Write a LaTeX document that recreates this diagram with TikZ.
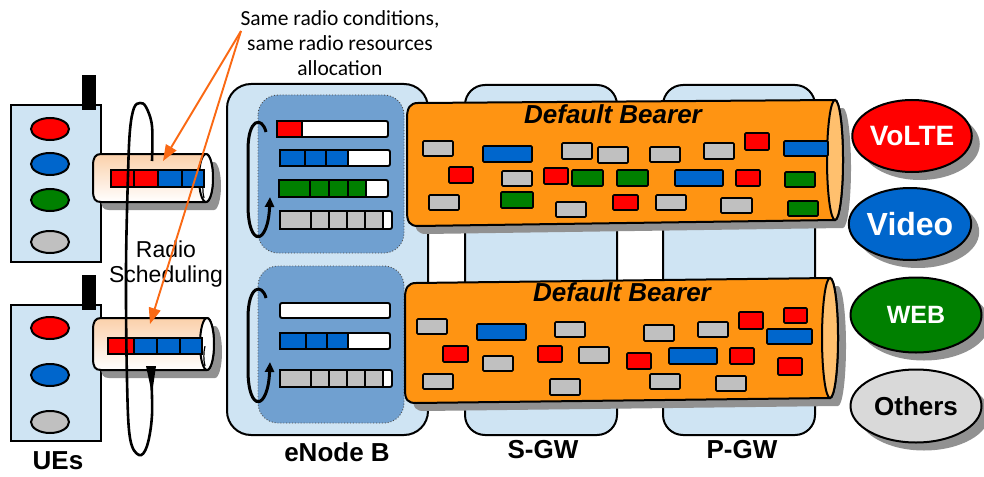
\documentclass[tikz,border=0pt]{standalone}
\usepackage{fontspec}
\setmainfont{Liberation Sans}
\newfontfamily\notefont{Carlito}
\usetikzlibrary{arrows.meta,shapes.geometric,shadows}

\definecolor{enbblue}{RGB}{207,228,243}
\definecolor{schedblue}{RGB}{112,160,208}
\definecolor{bearerorange}{RGB}{255,148,18}
\definecolor{bearercap}{RGB}{255,192,110}
\definecolor{pktred}{RGB}{255,0,0}
\definecolor{pktblue}{RGB}{0,102,204}
\definecolor{pktgreen}{RGB}{0,128,0}
\definecolor{pktgrey}{RGB}{192,192,192}
\definecolor{othergrey}{RGB}{217,217,217}
\definecolor{shadowgrey}{RGB}{145,145,145}
\definecolor{notearrow}{RGB}{250,105,20}
\definecolor{pipetop}{RGB}{251,208,170}

\begin{document}
\begin{tikzpicture}[x=1pt,y=-1pt,
  outline/.style={draw=black,line width=2pt},
  netbox/.style={outline,fill=enbblue},
  schedbox/.style={draw=black!70,dotted,line width=0.9pt,fill=schedblue,rounded corners=20pt},
  pkt/.style={draw=black,line width=1.7pt,rounded corners=1pt},
  cell/.style={draw=black,line width=1.6pt},
  qbar/.style={draw=black,line width=1.9pt,fill=white,rounded corners=2pt},
  shadowfill/.style={fill=shadowgrey},
  svc/.style={ellipse,outline,inner sep=0pt,
    drop shadow={shadow xshift=8pt,shadow yshift=-8pt,fill=shadowgrey,opacity=1}},
  lbl/.style={font=\bfseries\fontsize{26}{30}\selectfont},
  bearerlbl/.style={font=\bfseries\itshape\fontsize{26}{30}\selectfont},
  looparrow/.style={line width=3pt,-{Triangle[length=10pt,width=9pt]}},
  schedline/.style={line width=2.6pt},
  notearr/.style={draw=notearrow,line width=1.9pt,-{Triangle[length=16pt,width=12pt]}}
]
\useasboundingbox (0,0) rectangle (984,476);

% ---------- network element boxes ----------
\draw[netbox,rounded corners=24pt] (227,84) rectangle (428,435);
\draw[netbox,rounded corners=20pt] (465,85) rectangle (617,435);
\draw[netbox,rounded corners=20pt] (663,85) rectangle (815,435);

% ---------- scheduler queues inside the eNode B ----------
\draw[schedbox] (258,95) rectangle (404,253);
\draw[schedbox] (258,266) rectangle (404,423);

% upper scheduler queues
\draw[qbar] (277,121) rectangle (388,137);
\draw[cell,fill=pktred] (277,121) rectangle (302,137);
\draw[qbar] (280,150) rectangle (390,166);
\foreach \a/\b in {280/305,305/326,326/348}
  \draw[cell,fill=pktblue] (\a,150) rectangle (\b,166);
\draw[qbar] (279,180) rectangle (388,197);
\foreach \a/\b in {279/310,310/329,329/348,348/366}
  \draw[cell,fill=pktgreen] (\a,180) rectangle (\b,197);
\draw[qbar] (280,211) rectangle (392,229);
\foreach \a/\b in {280/311,311/329,329/347,347/365,365/383}
  \draw[cell,fill=pktgrey] (\a,211) rectangle (\b,229);

% lower scheduler queues
\draw[qbar] (280,303) rectangle (390,318);
\draw[qbar] (280,333) rectangle (390,349);
\foreach \a/\b in {280/306,306/327,327/348}
  \draw[cell,fill=pktblue] (\a,333) rectangle (\b,349);
\draw[qbar] (280,370) rectangle (392,387);
\foreach \a/\b in {280/311,311/329,329/347,347/365,365/383}
  \draw[cell,fill=pktgrey] (\a,370) rectangle (\b,387);

% round-robin loops
\draw[looparrow] (266,132) .. controls (262,116) and (248,118) .. (248,150)
  -- (248,205) .. controls (248,248) and (268,246) .. (270,197);
\draw[looparrow] (266,298) .. controls (262,283) and (248,285) .. (248,318)
  -- (248,370) .. controls (248,413) and (268,411) .. (270,362);

% ---------- default bearers ----------
% upper bearer
\fill[shadowfill,shift={(8,8)}] (835,100) -- (418,103) .. controls (410,103) and (407,108) .. (407,118)
  -- (407,212) .. controls (407,222) and (410,226) .. (418,226) -- (835,220) arc(90:-90:8 and 60) -- cycle;
\draw[outline,fill=bearerorange] (835,100) -- (418,103) .. controls (410,103) and (407,108) .. (407,118)
  -- (407,212) .. controls (407,222) and (410,226) .. (418,226) -- (835,220) arc(90:-90:8 and 60) -- cycle;
\draw[outline,fill=bearercap] (835,160) ellipse (8 and 60);
\node[bearerlbl] (db1) at (613,114) {Default Bearer};

\foreach \c/\xa/\ya/\xb/\yb in {
  pktgrey/423/141/453/156, pktblue/483/146/532/162, pktgrey/562/143/592/159,
  pktgrey/598/147/628/163, pktgrey/650/147/680/162, pktgrey/704/143/734/159,
  pktred/745/133/769/150, pktblue/784/141/828/156,
  pktred/449/167/473/183, pktgrey/502/171/532/186, pktred/544/168/568/184,
  pktgreen/572/170/603/186, pktgreen/617/170/648/186, pktblue/675/170/723/186,
  pktred/736/170/760/186, pktgreen/785/172/815/187,
  pktgrey/429/195/459/210, pktgreen/501/192/533/208, pktgrey/556/202/586/217,
  pktred/613/195/638/210, pktgrey/656/195/686/210, pktgrey/721/198/752/213,
  pktgreen/788/201/818/216}
  \draw[pkt,fill=\c] (\xa,\ya) rectangle (\xb,\yb);

% lower bearer
\fill[shadowfill,shift={(8,8)}] (830,278) -- (416,283) .. controls (408,283) and (405,288) .. (405,298)
  -- (405,390) .. controls (405,400) and (408,403) .. (416,403) -- (830,398) arc(90:-90:8 and 60) -- cycle;
\draw[outline,fill=bearerorange] (830,278) -- (416,283) .. controls (408,283) and (405,288) .. (405,298)
  -- (405,390) .. controls (405,400) and (408,403) .. (416,403) -- (830,398) arc(90:-90:8 and 60) -- cycle;
\draw[outline,fill=bearercap] (830,338) ellipse (8 and 60);
\node[bearerlbl] (db2) at (622,292) {Default Bearer};

\foreach \c/\xa/\ya/\xb/\yb in {
  pktgrey/417/319/447/334, pktblue/477/324/526/340, pktgrey/555/322/585/337,
  pktgrey/644/325/674/341, pktgrey/698/322/728/337, pktred/739/312/763/329,
  pktred/784/308/807/323, pktblue/767/329/812/344,
  pktred/443/346/468/362, pktgrey/483/356/513/371, pktred/538/346/562/362,
  pktgrey/579/347/609/363, pktred/627/353/651/369, pktblue/669/348/717/364,
  pktred/730/348/754/364, pktred/778/358/802/375,
  pktgrey/423/374/453/389, pktgrey/550/379/580/395, pktgrey/650/374/680/389,
  pktgrey/716/376/746/391}
  \draw[pkt,fill=\c] (\xa,\ya) rectangle (\xb,\yb);

% ---------- services ----------
\node[svc,fill=pktred,minimum width=110pt,minimum height=72pt,text=white,
  font=\bfseries\fontsize{28}{32}\selectfont] (volte) at (912,136) {VoLTE};
\node[svc,fill=pktblue,minimum width=117pt,minimum height=72pt,text=white,
  font=\bfseries\fontsize{32}{36}\selectfont] (video) at (910,224) {Video};
\node[svc,fill=pktgreen,minimum width=131pt,minimum height=75pt,text=white,
  font=\bfseries\fontsize{25}{30}\selectfont] (web) at (916,315) {WEB};
\node[svc,fill=othergrey,minimum width=131pt,minimum height=73pt,text=black,
  font=\bfseries\fontsize{26}{30}\selectfont] (others) at (916,406) {Others};

% ---------- user equipment ----------
\draw[netbox] (11,105) rectangle (101,262);
\fill[black] (82,75) rectangle (96,110);
\foreach \y/\c in {129/pktred,164/pktblue,200/pktgreen,242/pktgrey}
  \draw[outline,fill=\c] (50,\y) ellipse (19 and 11);

\draw[netbox] (11,305) rectangle (101,441);
\fill[black] (82,275) rectangle (96,310);
\foreach \y/\c in {328/pktred,375/pktblue,422/pktgrey}
  \draw[outline,fill=\c] (50,\y) ellipse (19 and 11);

% radio bearers towards the eNode B
\fill[shadowfill,shift={(8,8)}] (206,154) -- (101,154) .. controls (95,154) and (93,158) .. (93,166)
  -- (93,190) .. controls (93,199) and (95,202) .. (101,202) -- (206,202) arc(90:-90:7 and 24) -- cycle;
\draw[outline,top color=pipetop,bottom color=white] (206,154) -- (101,154) .. controls (95,154) and (93,158) .. (93,166)
  -- (93,190) .. controls (93,199) and (95,202) .. (101,202) -- (206,202) arc(90:-90:7 and 24) -- cycle;
\draw[outline,fill=white] (206,178) ellipse (7 and 24);
\draw[line width=1.2pt] (204,198) arc(135:225:4 and 14);
\draw[cell,fill=pktred] (111,170) rectangle (134,187);
\draw[cell,fill=pktred] (134,170) rectangle (158,187);
\draw[cell,fill=pktblue] (158,170) rectangle (182,187);
\draw[cell,fill=pktblue] (182,170) rectangle (204,187);

\fill[shadowfill,shift={(8,8)}] (207,318) -- (101,318) .. controls (95,318) and (93,322) .. (93,330)
  -- (93,358) .. controls (93,367) and (95,370) .. (101,370) -- (207,370) arc(90:-90:7 and 26) -- cycle;
\draw[outline,top color=pipetop,bottom color=white] (207,318) -- (101,318) .. controls (95,318) and (93,322) .. (93,330)
  -- (93,358) .. controls (93,367) and (95,370) .. (101,370) -- (207,370) arc(90:-90:7 and 26) -- cycle;
\draw[outline,fill=white] (207,344) ellipse (7 and 26);
\draw[line width=1.2pt] (205,366) arc(135:225:4 and 14);
\draw[cell,fill=pktred] (108,338) rectangle (134,354);
\draw[cell,fill=pktblue] (134,338) rectangle (157,354);
\draw[cell,fill=pktblue] (157,338) rectangle (180,354);
\draw[cell,fill=pktblue] (180,338) rectangle (202,354);

% radio scheduling loop
\draw[schedline] plot[smooth,tension=0.6] coordinates {(152,161) (152,126) (146,107) (140,103)
  (134,108) (130,130) (128,175) (126,270) (127,380) (130,438) (139,455) (147,446) (152,415) (151,372)};
\fill[black] (146,366) -- (156,366) -- (152,394) -- cycle;
\node[font=\fontsize{23}{25}\selectfont,align=center] (sched) at (166,264) {Radio\\Scheduling};

% ---------- annotation ----------
\node[font=\notefont\fontsize{21.5}{25}\selectfont,align=center] (note) at (340,43)
  {Same radio conditions,\\same radio resources\\allocation};
\coordinate (src) at (241,31);
\coordinate (tip1) at (163,161);
\coordinate (tip2) at (150,324);
\draw[notearr] (src) -- (tip1);
\draw[notearr] (src) -- (tip2);

% ---------- element labels ----------
\node[lbl] (ues) at (58,461) {UEs};
\node[lbl] (enb) at (337,452) {eNode B};
\node[lbl] (sgw) at (543,450) {S-GW};
\node[lbl] (pgw) at (742,450) {P-GW};
\end{tikzpicture}
\end{document}
